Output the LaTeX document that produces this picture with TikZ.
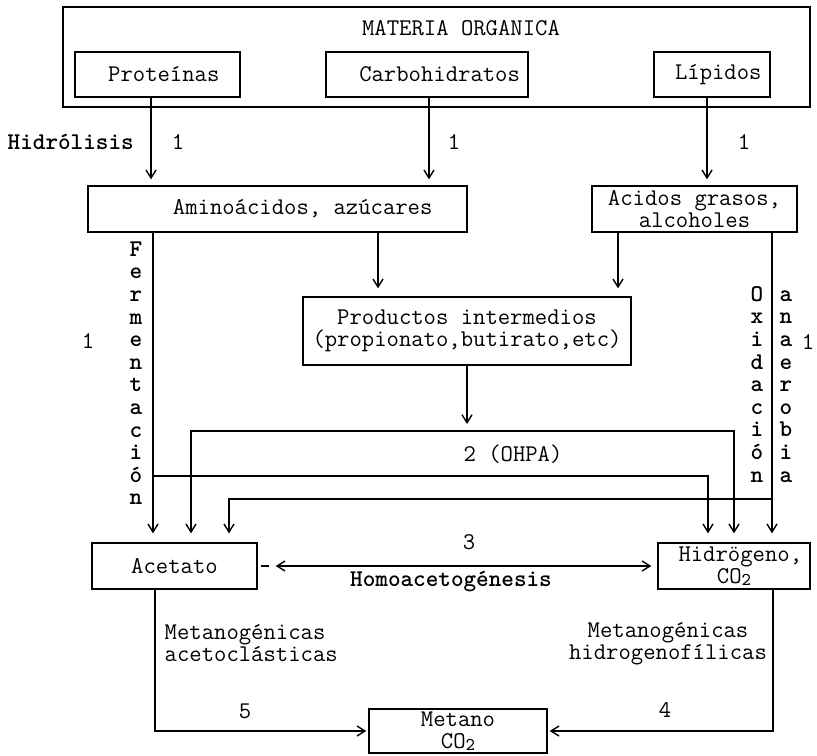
\documentclass[tikz,border=0pt]{standalone}
\usepackage{fontspec}
\newfontfamily\negrita{lmmonolt10-bold.otf}
\usetikzlibrary{arrows.meta}

\newcommand{\dos}{\raisebox{-0.2ex}{\fontsize{9}{9}\selectfont 2}}
\newcommand{\esp}{\hspace*{6.3pt}}

\begin{document}
\begin{tikzpicture}[x=0.5pt,y=-0.5pt,
        every node/.style={font=\ttfamily\fontsize{12}{11}\selectfont, inner sep=1pt},
        caja/.style={draw, line width=0.7pt, align=center},
        rotulo/.style={font=\negrita\fontsize{12}{11}\selectfont},
        letra/.style={rotulo, text height=1.5ex, text depth=0.25ex},
        >={Straight Barb[length=4pt,width=5pt]},
        every path/.style={line width=0.7pt}]
    \useasboundingbox[fill=white] (0,0) rectangle (817,755);

    % cajas
    \node[caja, minimum width=373.5pt, minimum height=50pt] (materia) at (436.5,57) {};
    \node (titulo) at (461,28) {MATERIA ORGANICA};
    \node[caja, minimum width=82.5pt, minimum height=22.5pt] (proteinas) at (157.5,74.5) {\esp Proteínas};
    \node[caja, minimum width=101pt, minimum height=22.5pt] (carbo) at (427,74.5) {\esp\esp Carbohidratos};
    \node[caja, minimum width=58pt, minimum height=22.5pt] (lipidos) at (712,74.5) {\esp Lípidos};
    \node[caja, minimum width=189.5pt, minimum height=23pt] (amino) at (277.5,209) {\esp\esp\esp\esp Aminoácidos, azúcares};
    \node[caja, minimum width=102.5pt, minimum height=23pt] (acidos) at (694.5,209) {Acidos grasos,\\alcoholes};
    \node[caja, minimum width=164pt, minimum height=34pt] (productos) at (467,331) {Productos intermedios\\(propionato,butirato,etc)};
    \node[caja, minimum width=82.5pt, minimum height=23pt] (acetato) at (174.5,566) {Acetato};
    \node[caja, minimum width=76pt, minimum height=23pt] (hidrogeno) at (734,566) {\esp Hidrögeno,\\CO\dos};
    \node[caja, minimum width=89pt, minimum height=22pt] (metano) at (458,731) {Metano\\CO\dos};

    % columnas y quiebres
    \coordinate (c1) at (151,0);
    \coordinate (c2) at (429,0);
    \coordinate (c3) at (707,0);
    \coordinate (c4) at (378,0);
    \coordinate (c5) at (618,0);
    \coordinate (cf) at (153,0);
    \coordinate (cox) at (772,0);
    \coordinate (c5m) at (155,0);
    \coordinate (c4m) at (773,0);
    \coordinate (ramaF) at (153,476);
    \coordinate (ramaFh) at (708,476);
    \coordinate (ohpaL) at (191,431);
    \coordinate (ohpaR) at (734,431);
    \coordinate (ramaO) at (772,499);
    \coordinate (ramaOa) at (229,499);

    % hidrolisis
    \draw[->, shorten >=3pt] (proteinas.south -| c1) -- (amino.north -| c1);
    \draw[->, shorten >=3pt] (carbo.south -| c2) -- (amino.north -| c2);
    \draw[->, shorten >=3pt] (lipidos.south -| c3) -- (acidos.north -| c3);
    \draw[->, shorten >=4pt] (amino.south -| c4) -- (productos.north -| c4);
    \draw[->, shorten >=4pt] (acidos.south -| c5) -- (productos.north -| c5);

    % fermentacion, OHPA, oxidacion anaerobia
    \draw[->, shorten >=4.5pt] (amino.south -| cf) -- (acetato.north -| cf);
    \draw[->, shorten >=4.5pt] (ramaF) -- (ramaFh) -- (hidrogeno.north -| ramaFh);
    \draw[->, shorten >=3.5pt] (productos.south) -- (productos.south |- ohpaL);
    \draw[<->, shorten <=4.5pt, shorten >=4.5pt] (acetato.north -| ohpaL) -- (ohpaL) -- (ohpaR) -- (hidrogeno.north -| ohpaR);
    \draw[->, shorten >=4.5pt] (acidos.south -| cox) -- (hidrogeno.north -| cox);
    \draw[->, shorten >=4.5pt] (ramaO) -- (ramaOa) -- (acetato.north -| ramaOa);

    % homoacetogenesis
    \draw[shorten <=1.5pt] (acetato.east) -- ++(5.5pt,0);
    \draw[<->, shorten <=9pt, shorten >=3pt] (acetato.east) -- (hidrogeno.west);

    % metanogenesis
    \draw[->, shorten >=1pt] (acetato.south -| c5m) |- (metano.west);
    \draw[->, shorten >=1pt] (hidrogeno.south -| c4m) |- (metano.east);

    % rotulos
    \node[rotulo, anchor=west] (hidrolisis) at (5,142) {Hidrólisis};
    \node (uno1) at (178,142) {1};
    \node (uno2) at (454,142) {1};
    \node (uno3) at (744,142) {1};
    \node (uno4) at (88,341) {1};
    \node (uno5) at (808,342) {1};
    \foreach \l [count=\i from 0] in {F,e,r,m,e,n,t,a,c,i,ó,n}
        \node[letra] (ferm\i) at (136,251+22.6*\i) {\l};
    \foreach \l [count=\i from 0] in {O,x,i,d,a,c,i,ó,n}
        \node[letra] (oxid\i) at (757,296+22.6*\i) {\l};
    \foreach \l [count=\i from 0] in {a,n,a,e,r,o,b,i,a}
        \node[letra] (anae\i) at (786,296+22.6*\i) {\l};
    \node (ohpa) at (513,454) {2 (OHPA)};
    \node (tres) at (469,542) {3};
    \node[rotulo] (homo) at (451,582) {Homoacetogénesis};
    \node[anchor=west, align=left] (acetoclas) at (162,643.5) {Metanogénicas\\acetoclásticas};
    \node[align=center] (hidrofil) at (668,643.5) {Metanogénicas\\hidrogenofílicas};
    \node (cinco) at (245,711) {5};
    \node (cuatro) at (665,710) {4};
\end{tikzpicture}
\end{document}
